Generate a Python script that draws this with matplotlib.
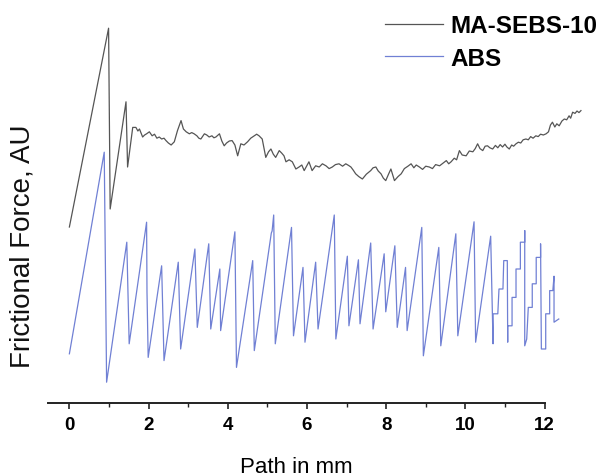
import matplotlib
matplotlib.use("Agg")
import matplotlib.pyplot as plt

plt.rcParams['font.family'] = ['Liberation Sans', 'DejaVu Sans']

# MA-SEBS-10: path (mm) and frictional force (AU)
path_sebs = [0.00, 0.99, 1.03, 1.43, 1.47, 1.60, 1.68, 1.73, 1.77, 1.85, 1.90, 1.95,
             2.02, 2.09, 2.15, 2.21, 2.27, 2.33, 2.39, 2.44, 2.50, 2.57, 2.65, 2.73,
             2.82, 2.88, 2.95, 3.03, 3.09, 3.15, 3.22, 3.27, 3.32, 3.41, 3.47, 3.53,
             3.60, 3.65, 3.70, 3.79, 3.85, 3.91, 3.97, 4.04, 4.11, 4.18, 4.25, 4.33,
             4.41, 4.50, 4.58, 4.67, 4.73, 4.79, 4.87, 4.96, 5.03, 5.09, 5.15, 5.21,
             5.30, 5.36, 5.42, 5.47, 5.55, 5.63, 5.72, 5.80, 5.87, 5.93, 6.05, 6.13,
             6.22, 6.31, 6.39, 6.48, 6.56, 6.64, 6.72, 6.81, 6.90, 6.98, 7.05, 7.11,
             7.17, 7.23, 7.31, 7.40, 7.50, 7.61, 7.67, 7.74, 7.80, 7.87, 7.93, 7.99,
             8.06, 8.12, 8.21, 8.30, 8.38, 8.46, 8.55, 8.63, 8.70, 8.76, 8.84, 8.92,
             9.00, 9.09, 9.17, 9.25, 9.35, 9.43, 9.52, 9.58, 9.64, 9.72, 9.78, 9.85,
             9.92, 10.02, 10.10, 10.19, 10.25, 10.31, 10.37, 10.44, 10.50, 10.56,
             10.62, 10.69, 10.76, 10.82, 10.88, 10.94, 11.00, 11.05, 11.11, 11.17,
             11.22, 11.28, 11.34, 11.40, 11.46, 11.53, 11.59, 11.65, 11.71, 11.78,
             11.84, 11.90, 11.97, 12.04, 12.10, 12.15, 12.20, 12.26, 12.31, 12.37,
             12.44, 12.50, 12.56, 12.62, 12.66, 12.71, 12.77, 12.82, 12.87, 12.92]
force_sebs = [4.40, 9.37, 4.85, 7.53, 5.90, 6.89, 6.89, 6.80, 6.85, 6.65, 6.70, 6.73,
              6.78, 6.68, 6.72, 6.62, 6.65, 6.60, 6.62, 6.56, 6.50, 6.45, 6.53, 6.81,
              7.06, 6.85, 6.78, 6.73, 6.76, 6.73, 6.68, 6.62, 6.60, 6.73, 6.70, 6.65,
              6.68, 6.63, 6.65, 6.73, 6.55, 6.43, 6.50, 6.55, 6.56, 6.45, 6.18, 6.48,
              6.45, 6.53, 6.62, 6.68, 6.72, 6.68, 6.60, 6.14, 6.28, 6.35, 6.22, 6.14,
              6.31, 6.25, 6.18, 6.03, 6.08, 6.03, 5.85, 5.90, 5.95, 5.81, 6.03, 5.81,
              5.93, 5.90, 5.98, 5.93, 5.86, 5.90, 5.96, 5.98, 5.92, 5.98, 5.94, 5.90,
              5.82, 5.73, 5.66, 5.60, 5.72, 5.81, 5.88, 5.90, 5.80, 5.73, 5.62, 5.56,
              5.72, 5.85, 5.56, 5.66, 5.73, 5.86, 5.92, 5.98, 5.88, 5.95, 5.90, 5.84,
              5.92, 5.90, 5.86, 5.96, 5.93, 5.99, 6.06, 5.98, 6.03, 6.12, 6.08, 6.31,
              6.20, 6.18, 6.30, 6.28, 6.36, 6.48, 6.36, 6.31, 6.42, 6.43,
              6.38, 6.35, 6.44, 6.38, 6.46, 6.40, 6.47, 6.40, 6.35, 6.45,
              6.42, 6.48, 6.52, 6.50, 6.58, 6.60, 6.58, 6.66, 6.62, 6.68,
              6.66, 6.72, 6.70, 6.73, 6.78, 6.95, 7.02, 6.90, 6.98, 6.93,
              7.05, 7.10, 7.08, 7.18, 7.12, 7.27, 7.24, 7.30, 7.26, 7.31]

# ABS: stick-slip trace
path_abs = [0.00, 0.88, 0.94, 1.45, 1.51, 1.95, 1.96, 1.99, 2.33, 2.39, 2.75, 2.81,
            3.17, 3.23, 3.52, 3.57, 3.80, 3.82, 4.18, 4.22, 4.63, 4.67, 5.10, 5.12,
            5.16, 5.20, 5.61, 5.66, 5.90, 5.95, 6.22, 6.28, 6.69, 6.73, 7.02, 7.06,
            7.30, 7.34, 7.61, 7.67, 7.95, 7.99, 8.22, 8.28, 8.49, 8.53, 8.90, 8.94,
            9.33, 9.38, 9.76, 9.81, 10.22, 10.26, 10.64, 10.70,
            10.70, 10.82, 10.85, 10.95, 10.97, 11.06, 11.07, 11.07, 11.18, 11.18,
            11.28, 11.28, 11.39, 11.39, 11.50, 11.50, 11.50, 11.55, 11.59, 11.69,
            11.69, 11.79, 11.79, 11.90, 11.90, 11.92, 12.03, 12.03, 12.13, 12.13,
            12.21, 12.24, 12.24, 12.36]
force_abs = [1.23, 6.27, 0.52, 4.02, 1.48, 4.52, 2.78, 1.14, 3.43, 1.06, 3.52, 1.35,
             3.85, 1.89, 3.98, 1.85, 3.35, 1.81, 4.28, 0.89, 3.56, 1.31, 4.25, 4.30,
             4.70, 1.48, 4.39, 1.68, 3.39, 1.52, 3.52, 1.85, 4.70, 1.60, 3.67, 1.93,
             3.58, 1.98, 4.00, 1.85, 3.73, 2.28, 3.93, 1.89, 3.39, 1.81, 4.39, 1.18,
             3.89, 1.43, 4.23, 1.68, 4.53, 1.52, 4.17, 1.48,
             2.23, 2.23, 2.85, 2.85, 3.56, 3.56, 1.52, 1.93, 1.93, 2.64,
             2.64, 3.35, 3.35, 4.02, 4.02, 4.31, 1.43, 1.60, 2.39, 2.39,
             2.98, 2.98, 3.64, 3.64, 3.98, 1.35, 1.35, 2.23, 2.23, 2.81,
             2.81, 3.17, 2.02, 2.10]

xticks = [0, 2, 4, 6, 8, 10, 12]

fig = plt.figure(figsize=(6.06, 4.77), dpi=100)
ax = fig.add_axes([48 / 606, 73 / 477, 548 / 606, 400 / 477])

l1, = ax.plot(path_sebs, force_sebs, color='#555555', lw=0.9, label='MA-SEBS-10')
l2, = ax.plot(path_abs, force_abs, color='#7080d4', lw=0.9, label='ABS')

ax.set_xlim(-0.54, 13.3)
ax.set_ylim(0, 10)

for side in ['top', 'right', 'left']:
    ax.spines[side].set_visible(False)
ax.spines['bottom'].set_bounds(-0.54, 12)
ax.spines['bottom'].set_linewidth(1.4)
ax.spines['bottom'].set_color('#222222')

ax.set_xticks(xticks)
ax.set_xticks(range(1, 12, 2), minor=True)
ax.set_xticklabels([str(t) for t in xticks], fontsize=13.5, fontweight='bold')
ax.tick_params(axis='x', which='major', direction='out', length=4.5, width=1.2,
               color='#222222', pad=5)
ax.tick_params(axis='x', which='minor', direction='out', length=3, width=1.0,
               color='#222222')
ax.set_yticks([])

ax.set_xlabel('Path in mm', fontsize=16)
ax.xaxis.set_label_coords(0.454, -0.1325)
ax.set_ylabel('Frictional Force, AU', fontsize=20, color='#111111')
ax.yaxis.set_label_coords(-0.022, 0.395)

leg = fig.legend(handles=[l1, l2], loc='upper left', bbox_to_anchor=(368 / 606, 1 + 2 / 477),
                 frameon=False, fontsize=17.5, handlelength=2.4, handletextpad=0.3,
                 labelspacing=0.4, borderpad=0.2)
for txt in leg.get_texts():
    txt.set_fontweight('bold')

fig.savefig('out.png', dpi=100)
